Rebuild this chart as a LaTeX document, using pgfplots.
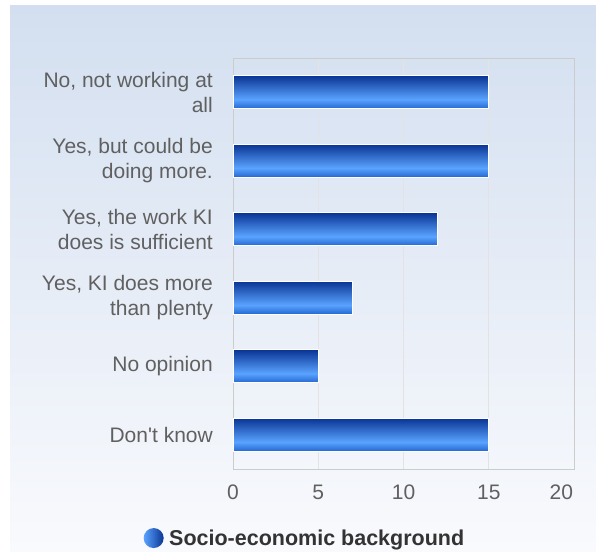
\documentclass[border=0pt]{standalone}
\usepackage{fontspec}
\setmainfont{Liberation Sans}
\usepackage{pgfplots}
\pgfplotsset{compat=1.18}
\definecolor{bgtop}{HTML}{D3DFF0}
\definecolor{bgbot}{HTML}{F9FAFD}
\definecolor{bardark}{HTML}{0A3494}
\definecolor{barlight}{HTML}{5AA3FF}
\definecolor{barbot}{HTML}{2367D0}
\definecolor{labelgray}{HTML}{606060}
\definecolor{legtext}{HTML}{333333}
\definecolor{framegray}{HTML}{CCCCCC}
\definecolor{gridgray}{HTML}{E3E3E3}
\pgfdeclareverticalshading{barshade}{100bp}{color(0bp)=(barbot); color(25bp)=(barbot); color(39bp)=(barlight); color(75bp)=(bardark); color(100bp)=(bardark)}
\pgfdeclarehorizontalshading{ballshade}{100bp}{color(0bp)=(barlight); color(25bp)=(barlight); color(75bp)=(bardark); color(100bp)=(bardark)}
\pgfplotsset{barstyle/.style={xbar, bar width=33bp, bar shift=0pt, shading=barshade, draw=white, line width=1bp}}
\begin{document}
\begin{tikzpicture}[x=1bp,y=1bp]
\useasboundingbox (0,0) rectangle (596,-552);
\shade[top color=bgtop, bottom color=bgbot] (10,-6) rectangle (596,-552);
\begin{axis}[
  at={(233bp,-469bp)}, anchor=south west,
  scale only axis, width=341bp, height=411bp,
  xbar, bar width=33bp, bar shift=0pt,
  xmin=0, xmax=20, xtick={0,5,10,15,20},
  xticklabels={0,5,10,15,\makebox[0pt][r]{20\hspace{1bp}}},
  ymin=-0.5, ymax=5.5, y dir=reverse,
  ytick={0,1,2,3,4,5},
  yticklabels={{No, not working at\\all},{Yes, but could be\\doing more.},{Yes, the work KI\\does is sufficient},{Yes, KI does more\\than plenty},{No opinion},{Don\textquotesingle t know}},
  /pgf/number format/assume math mode=true,
  axis line style={framegray},
  major tick length=0pt,
  xmajorgrids, grid style={gridgray, line width=1bp},
  yticklabel style={align=right, inner sep=0pt, xshift=-20bp, text=labelgray, font=\fontsize{21bp}{25bp}\selectfont},
  xticklabel style={inner sep=0pt, yshift=-16bp, text=labelgray, font=\fontsize{21bp}{24bp}\selectfont},
  legend style={at={(0.211,-0.168)}, anchor=center, draw=none, fill=none, font=\fontsize{21.5bp}{24bp}\selectfont\bfseries, text=legtext},
  legend image code/.code={\shade[shading=ballshade, draw=none] (-2bp,0bp) circle (10bp); \path (11bp,0bp);},
]
\addplot[barstyle] coordinates {(15,0)};
\addlegendentry{Socio-economic background}
\addplot[barstyle, forget plot] coordinates {(15,1)};
\addplot[barstyle, forget plot] coordinates {(12,2)};
\addplot[barstyle, forget plot] coordinates {(7,3)};
\addplot[barstyle, forget plot] coordinates {(5,4)};
\addplot[barstyle, forget plot] coordinates {(15,5)};
\end{axis}
\end{tikzpicture}
\end{document}
